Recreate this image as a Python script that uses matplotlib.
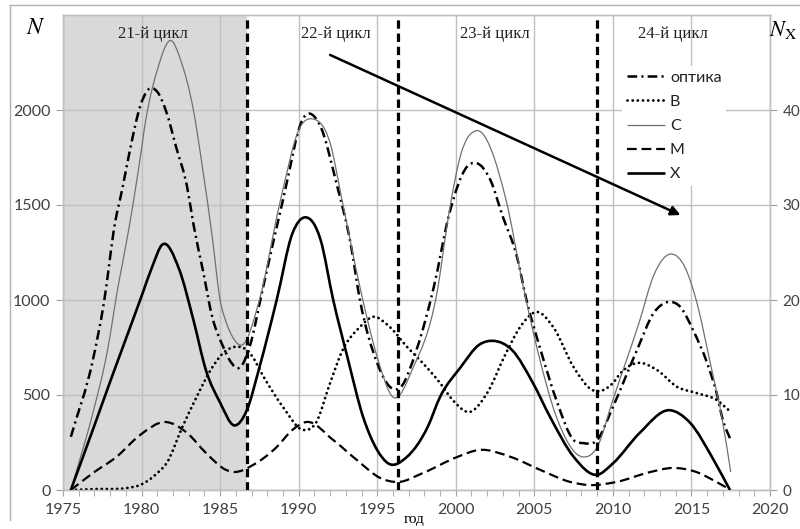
import numpy as np
import matplotlib
matplotlib.use('Agg')
import matplotlib.pyplot as plt
from matplotlib.path import Path
from matplotlib.patches import PathPatch
from matplotlib.lines import Line2D

plt.rcParams['font.family'] = ['Lato', 'Open Sans', 'DejaVu Sans']
plt.rcParams['mathtext.fontset'] = 'stix'
plt.rcParams['lines.scale_dashes'] = False

# optical flares (left axis)
opt_years = [1975.5, 1976.9, 1977.6, 1978.3, 1978.8, 1979.3, 1979.9, 1980.4, 1981.0, 1981.6,
             1982.2, 1982.9, 1983.3, 1983.9, 1984.5, 1985.2, 1985.6, 1986.3, 1986.9, 1987.7,
             1989.0, 1990.3, 1991.4, 1992.4, 1993.3, 1993.9, 1995.0, 1995.9, 1996.5, 1997.5,
             1998.6, 1999.6, 2000.7, 2001.3, 2002.2, 2003.0, 2003.9, 2004.5, 2005.4, 2006.4,
             2007.5, 2008.1, 2009.0, 2010.0, 2011.5, 2012.6, 2013.5, 2014.3, 2015.1, 2016.0,
             2016.6, 2017.0, 2017.5]
opt_vals = [280, 684, 984, 1400, 1595, 1805, 2016, 2105, 2096, 1984,
            1805, 1595, 1400, 1158, 911, 753, 684, 647, 760, 1053,
            1526, 1958, 1911, 1616, 1300, 1000, 668, 537, 542, 737,
            1068, 1458, 1700, 1721, 1632, 1437, 1226, 1000, 737, 474,
            263, 247, 263, 437, 730, 932, 989, 963, 842, 668,
            511, 368, 263]

# B class
b_years = [1975.5, 1977.0, 1979.0, 1979.9, 1981.0, 1981.6, 1982.6, 1983.5, 1984.4, 1985.2,
           1985.9, 1986.7, 1988.0, 1989.0, 1990.3, 1991.1, 1992.0, 1992.8, 1993.9, 1994.7,
           1995.8, 1996.9, 1997.9, 1999.0, 1999.8, 2000.9, 2002.0, 2003.2, 2004.1, 2005.2,
           2006.2, 2007.5, 2008.7, 2010.0, 2010.5, 2011.5, 2012.8, 2014.1, 2015.3, 2016.6,
           2017.5]
b_vals = [0, 5, 10, 26, 89, 142, 332, 489, 632, 721,
          753, 737, 563, 437, 316, 353, 563, 737, 858, 911,
          858, 753, 668, 563, 474, 411, 511, 721, 858, 937,
          858, 647, 526, 563, 616, 668, 632, 542, 511, 474,
          411]

# C class
c_years = [1975.5, 1976.9, 1977.8, 1978.5, 1979.1, 1979.8, 1980.3, 1981.0, 1981.9, 1982.5,
           1983.3, 1983.9, 1984.5, 1985.0, 1985.4, 1985.8, 1986.4, 1987.5, 1988.8, 1990.1,
           1990.9, 1992.0, 1992.8, 1993.9, 1995.0, 1996.0, 1997.3, 1998.8, 1999.6, 2000.3,
           2001.3, 2003.2, 2004.3, 2005.2, 2006.4, 2008.1, 2009.0, 2010.0, 2011.7, 2012.6,
           2013.7, 2014.6, 2015.3, 2016.2, 2017.0, 2017.5]
c_vals = [0, 405, 721, 1068, 1332, 1684, 1963, 2210, 2365, 2260,
          2000, 1684, 1332, 1000, 880, 805, 763, 1000, 1510, 1911,
          1953, 1826, 1510, 1068, 700, 489, 647, 1037, 1474, 1760,
          1891, 1526, 1068, 737, 386, 174, 226, 474, 890, 1130,
          1242, 1170, 1000, 668, 353, 95]

# M class
m_years = [1975.5, 1976.9, 1978.4, 1979.9, 1981.5, 1982.9, 1984.1, 1985.4, 1985.9, 1987.1,
           1988.6, 1989.6, 1990.5, 1992.2, 1993.7, 1995.2, 1996.3, 1997.9, 2000.1, 2001.5,
           2003.5, 2005.4, 2007.3, 2008.5, 2010.2, 2012.4, 2013.8, 2015.3, 2016.6, 2017.5]
m_vals = [0, 89, 174, 289, 358, 300, 195, 105, 95, 132,
          226, 316, 358, 263, 158, 63, 42, 89, 174, 211,
          174, 105, 42, 26, 42, 95, 116, 95, 42, 0]

# X class (right axis, N_X)
x_years = [1975.5, 1977.0, 1978.0, 1979.0, 1980.0, 1980.7, 1981.3, 1982.4, 1983.3, 1984.1,
           1985.0, 1985.9, 1986.7, 1987.5, 1988.6, 1989.6, 1990.4, 1991.4, 1992.2, 1993.1,
           1994.1, 1995.0, 1995.7, 1996.9, 1998.2, 1999.0, 2000.3, 2001.5, 2002.4, 2003.6,
           2004.9, 2006.0, 2007.5, 2009.0, 2010.0, 2011.7, 2013.6, 2014.9, 2016.4, 2017.45]
x_vals = [0, 6.8, 11.4, 15.9, 20.4, 23.6, 25.8, 23.2, 17.9, 12.6,
          9.2, 6.8, 8.4, 12.9, 20.0, 27.0, 28.7, 26.3, 20.0, 14.0,
          7.7, 4.2, 2.8, 3.5, 6.6, 9.8, 12.9, 15.3, 15.7, 14.7,
          11.3, 7.7, 3.5, 1.6, 2.8, 6.0, 8.4, 7.1, 3.2, 0]

cycle_bounds = [1986.7, 1996.3, 2009.0]
cycle_labels = ['21-й цикл', '22-й цикл', '23-й цикл', '24-й цикл']
cycle_label_x = [1980.7, 1992.4, 2002.5, 2013.8]
arrow_start = (1992.0, 2290)
arrow_end = (2014.3, 1447)


def smooth_path(xs, ys):
    # cubic Hermite segments as bezier curves, slopes from 3-point differences
    xs = np.asarray(xs, float)
    ys = np.asarray(ys, float)
    n = len(xs)
    h = np.diff(xs)
    d = np.diff(ys) / h
    m = np.empty(n)
    m[1:-1] = (h[:-1] * d[1:] + h[1:] * d[:-1]) / (h[:-1] + h[1:])
    m[0] = d[0]
    m[-1] = d[-1]
    verts = [(xs[0], ys[0])]
    codes = [Path.MOVETO]
    for i in range(n - 1):
        verts += [(xs[i] + h[i] / 3, ys[i] + m[i] * h[i] / 3),
                  (xs[i + 1] - h[i] / 3, ys[i + 1] - m[i + 1] * h[i] / 3),
                  (xs[i + 1], ys[i + 1])]
        codes += [Path.CURVE4] * 3
    return Path(verts, codes)


styles = {
    'opt': dict(color='black', lw=1.8, ls=(0, (7, 3, 1.5, 3)), cap='butt'),
    'B': dict(color='black', lw=2.0, ls=(0, (0.1, 3.6)), cap='round'),
    'C': dict(color='#707070', lw=0.9, ls='-', cap='butt'),
    'M': dict(color='black', lw=1.6, ls=(0, (7, 3.5)), cap='butt'),
    'X': dict(color='black', lw=1.9, ls='-', cap='butt'),
}


def add_curve(ax, xs, ys, st, z=3):
    ax.add_patch(PathPatch(smooth_path(xs, ys), fill=False, edgecolor=st['color'],
                           linewidth=st['lw'], linestyle=st['ls'], capstyle=st['cap'],
                           joinstyle='round', zorder=z))


fig = plt.figure(figsize=(8, 5.29), dpi=100)
ax = fig.add_axes([63 / 800, 39 / 529, 707 / 800, 475 / 529])
ax2 = ax.twinx()

grid_c = '#c0c0c0'
ax.axvspan(1975, cycle_bounds[0], color='#d9d9d9', zorder=0, lw=0)
ax.set_xlim(1975, 2020)
ax.set_ylim(0, 2500)
ax2.set_ylim(0, 50)
ax.set_xticks(range(1975, 2021, 5))
ax.set_xticks(range(1975, 2021), minor=True)
ax.set_yticks(range(0, 2001, 500))
ax2.set_yticks(range(0, 41, 10))
ax.set_axisbelow(True)
ax.grid(True, color=grid_c, lw=1.0)
for a in (ax, ax2):
    for s in a.spines.values():
        s.set_color(grid_c)
        s.set_linewidth(1.0)
ax.tick_params(axis='x', which='both', length=4, color='#a0a0a0', labelsize=11.5,
               labelcolor='#404040', pad=5)
ax.tick_params(axis='y', length=5, color='#a0a0a0', labelsize=11.5, labelcolor='#404040', pad=4)
ax2.tick_params(axis='y', length=5, color='#a0a0a0', labelsize=11, labelcolor='#404040', pad=4)

add_curve(ax, opt_years, opt_vals, styles['opt'])
add_curve(ax, b_years, b_vals, styles['B'])
add_curve(ax, c_years, c_vals, styles['C'])
add_curve(ax, m_years, m_vals, styles['M'])
add_curve(ax2, x_years, x_vals, styles['X'])

for xb in cycle_bounds:
    ax2.axvline(xb, color='black', lw=2.3, ls=(0, (6, 3.5)), zorder=4)

for lab, xl in zip(cycle_labels, cycle_label_x):
    ax.text(xl, 2400, lab, ha='center', va='center', fontsize=12,
            family='Liberation Serif', color='#202020')

ax2.annotate('', xy=arrow_end, xytext=(arrow_start[0], arrow_start[1] / 50),
             xycoords=ax.transData, textcoords=ax2.transData,
             arrowprops=dict(arrowstyle='-|>', color='black', lw=1.8,
                             mutation_scale=14, shrinkA=0, shrinkB=0))

fig.text(36 / 800, 1 - 28 / 529, r'$N$', fontsize=17, ha='center', va='center')
fig.text(769 / 800, 1 - 30 / 529, r'$N_{\mathrm{X}}$', fontsize=16, ha='left', va='center')
fig.text(414 / 800, 1 - 520 / 529, 'год', fontsize=11, ha='center', va='center',
         family='Liberation Serif')

handles = []
labels = ['оптика', 'B', 'C', 'M', 'X']
for key in ['opt', 'B', 'C', 'M', 'X']:
    st = styles[key]
    handles.append(Line2D([], [], color=st['color'], lw=st['lw'], ls=st['ls'],
                          dash_capstyle=st['cap'], solid_capstyle='butt'))
leg = ax2.legend(handles, labels, loc='upper left', bbox_to_anchor=(614 / 800, 1 - 58 / 529),
                 bbox_transform=fig.transFigure, frameon=True, fancybox=False,
                 edgecolor='none', facecolor='white', framealpha=1, fontsize=11.5,
                 handlelength=2.4, handletextpad=0.3, labelspacing=0.62, borderpad=0.3)
leg.set_zorder(5)
for t in leg.get_texts():
    t.set_color('#202020')

# outer chart frame
fig.add_artist(Line2D([10 / 800, 1], [1 - 5 / 529, 1 - 5 / 529], transform=fig.transFigure,
                      color='#b0b0b0', lw=1))
fig.add_artist(Line2D([10 / 800, 10 / 800], [1 - 5 / 529, 1 - 520 / 529],
                      transform=fig.transFigure, color='#b0b0b0', lw=1))

fig.savefig('out.png', dpi=100)
